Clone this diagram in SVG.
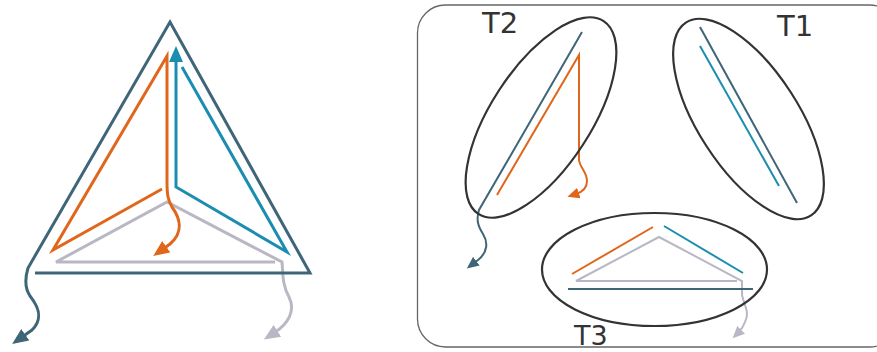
<svg xmlns="http://www.w3.org/2000/svg" width="877" height="352" viewBox="0 0 877 352">
<style>
.ln{fill:none;stroke-linejoin:miter;stroke-linecap:butt}
.big{stroke-width:3}
.sm{stroke-width:2}
.dk{stroke:#3f6678}
.or{stroke:#e0661c}
.tl{stroke:#1b8db0}
.gy{stroke:#b9b7c4}
.ell{fill:none;stroke:#333;stroke-width:2.2}
.lbl{font-family:"DejaVu Sans",Verdana,sans-serif;font-size:29px;fill:#333}
</style>
<defs>
<marker id="aDkL" markerUnits="userSpaceOnUse" markerWidth="16" markerHeight="14" refX="4" refY="7" orient="auto"><path d="M0,0 L16,7 L0,14 z" fill="#3f6678"/></marker>
<marker id="aOrL" markerUnits="userSpaceOnUse" markerWidth="16" markerHeight="14" refX="4" refY="7" orient="auto"><path d="M0,0 L16,7 L0,14 z" fill="#e0661c"/></marker>
<marker id="aTlL" markerUnits="userSpaceOnUse" markerWidth="16" markerHeight="14" refX="4" refY="7" orient="auto"><path d="M0,0 L16,7 L0,14 z" fill="#1b8db0"/></marker>
<marker id="aGyL" markerUnits="userSpaceOnUse" markerWidth="16" markerHeight="14" refX="4" refY="7" orient="auto"><path d="M0,0 L16,7 L0,14 z" fill="#b9b7c4"/></marker>
<marker id="aDkS" markerUnits="userSpaceOnUse" markerWidth="12" markerHeight="11" refX="3" refY="5.5" orient="auto"><path d="M0,0 L12,5.5 L0,11 z" fill="#3f6678"/></marker>
<marker id="aOrS" markerUnits="userSpaceOnUse" markerWidth="12" markerHeight="11" refX="3" refY="5.5" orient="auto"><path d="M0,0 L12,5.5 L0,11 z" fill="#e0661c"/></marker>
<marker id="aGyS" markerUnits="userSpaceOnUse" markerWidth="12" markerHeight="11" refX="3" refY="5.5" orient="auto"><path d="M0,0 L12,5.5 L0,11 z" fill="#b9b7c4"/></marker>
</defs>
<rect x="0" y="0" width="877" height="352" fill="#fff"/>
<rect id="frame" x="417.5" y="5" width="480" height="342" rx="28" fill="none" stroke="#666" stroke-width="1.3"/>
<g id="connectors">
<path class="ln big gy" d="M275,262 H56 L167,202 L282,262 C283,272 282,285 289,297 C296,311 288,324 274,333" marker-end="url(#aGyL)"/>
<path class="ln big dk" d="M35,273 H310 L170,22 L28,268 C25,278 24,287 30,296 C38,306 44,318 32,330 L22,337" marker-end="url(#aDkL)"/>
<path class="ln big or" d="M162,189 L53,250 L167,56 V182 C167,195 168,200 172,207 C180,218 184,232 170,244 L163,249" marker-end="url(#aOrL)"/>
<path class="ln big tl" d="M182,67 L287,252 L176,187 V58" marker-end="url(#aTlL)"/>
<path class="ln sm dk" d="M582,32 L479,210 C476,220 478,226 483,234 C488,242 488,252 478,260 L474,263" marker-end="url(#aDkS)"/>
<path class="ln sm or" d="M497,195 L579,55 V160 C580,168 587,172 587,181 C587,189 582,192 576,194" marker-end="url(#aOrS)"/>
<path class="ln sm dk" d="M700,27 L797,203"/>
<path class="ln sm tl" d="M700,46 L779,186"/>
<path class="ln sm or" d="M572,274 L653,227"/>
<path class="ln sm tl" d="M664,226 L743,273"/>
<path class="ln sm gy" d="M737,281 H576 L659,237 L742,281 V295 C744,305 750,312 745,322 C743,327 741,330 739,332" marker-end="url(#aGyS)"/>
<path class="ln sm dk" d="M568,289 H753"/>
</g>
<g id="T2">
<ellipse class="ell" cx="541" cy="117.5" rx="115" ry="50" transform="rotate(-57 541 117.5)"/>
<text class="lbl" x="482" y="33">T2</text>
</g>
<g id="T1">
<ellipse class="ell" cx="748.5" cy="119" rx="115" ry="50" transform="rotate(57 748.5 119)"/>
<text class="lbl" x="777" y="36">T1</text>
</g>
<g id="T3">
<ellipse class="ell" cx="654.5" cy="269.5" rx="112.5" ry="56.5"/>
<text class="lbl" x="574" y="345" style="font-size:27px">T3</text>
</g>
</svg>
